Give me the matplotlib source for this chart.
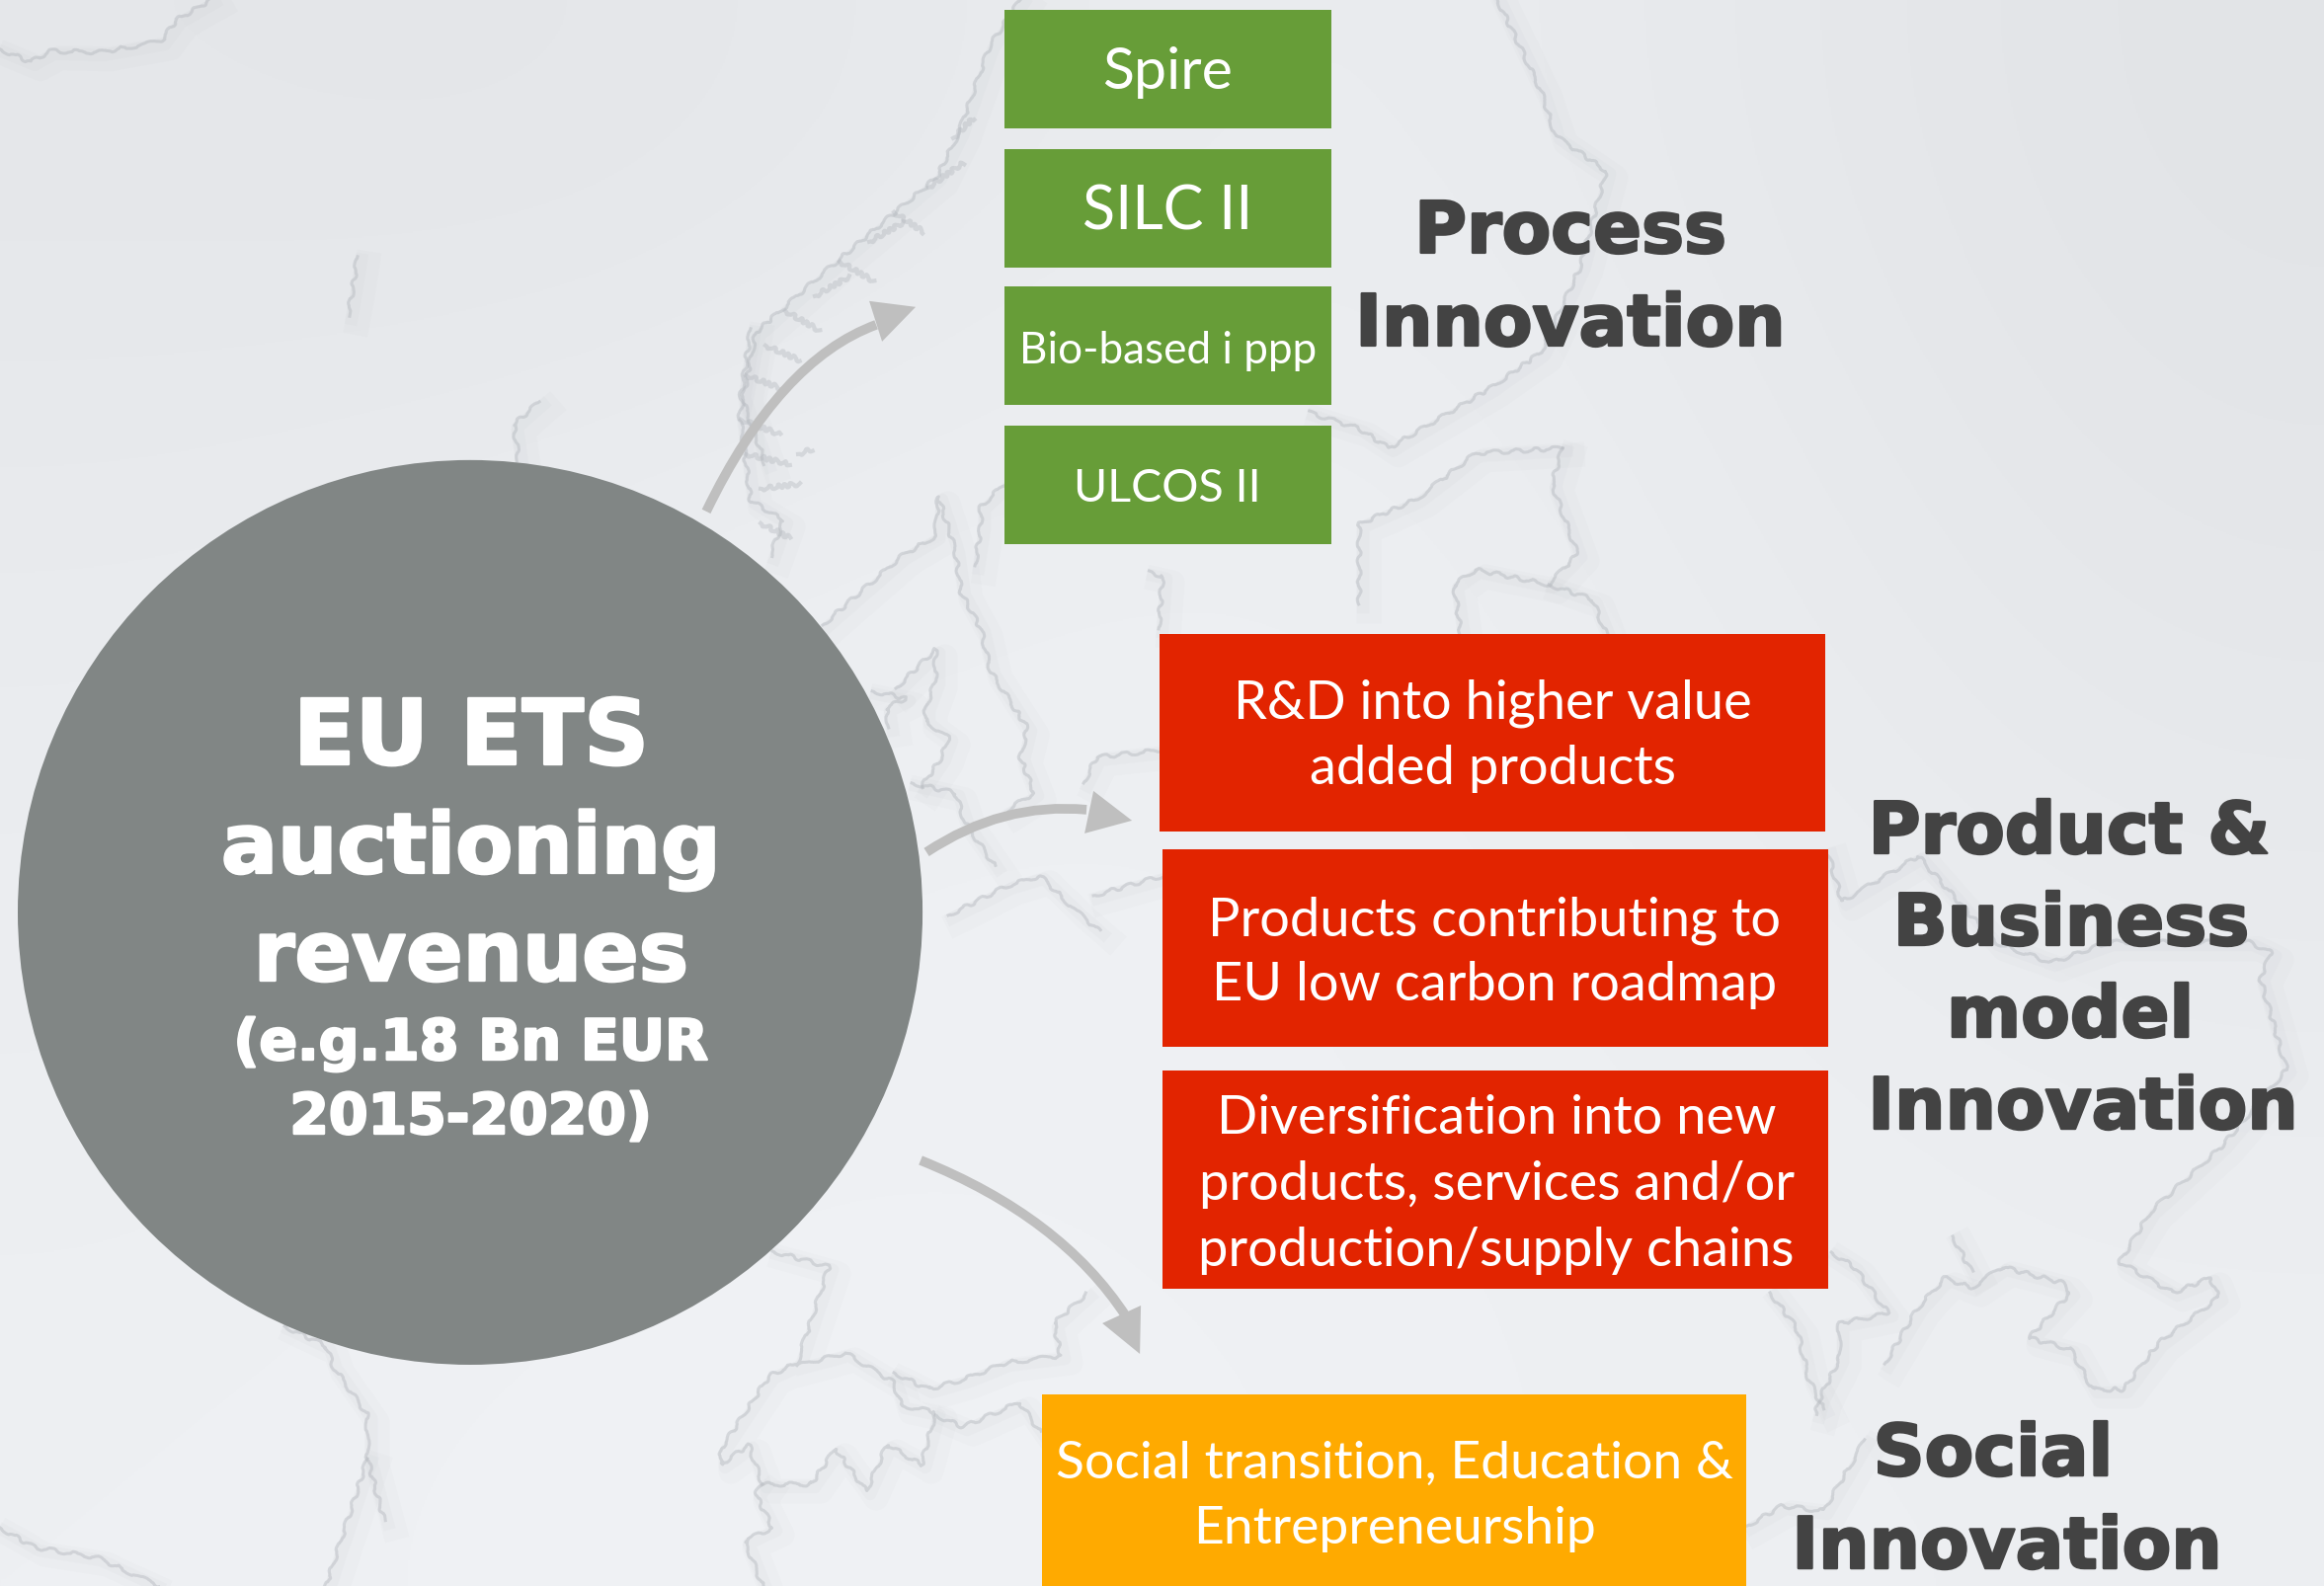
import numpy as np
import matplotlib
matplotlib.use("Agg")
import matplotlib.pyplot as plt
import matplotlib.patheffects as pe
from matplotlib.patches import Rectangle, Circle, PathPatch, Polygon
from matplotlib.path import Path

W, H = 2353, 1606

plt.rcParams['font.family'] = ['Lato', 'DejaVu Sans']
HEAVY = ['DejaVu Sans']

# colours
GREEN = '#679D38'
RED = '#E22400'
ORANGE = '#FFAA00'
CIRCLE = '#818685'
DARK = '#434343'
ARROW = '#BFBFBF'
MAP = '#B4B8BE'

# background grey levels on a coarse grid (top to bottom)
bg_levels = [[230, 229, 233, 236, 232, 227],
             [233, 235, 237, 238, 234, 229],
             [236, 238, 239, 239, 236, 232],
             [237, 239, 240, 239, 238, 236],
             [239, 241, 241, 240, 238, 238]]

# boxes: left, top, right, bottom
green_boxes = [(1017, 10, 1348, 130), (1017, 151, 1348, 271),
               (1017, 290, 1348, 410), (1017, 431, 1348, 551)]
red_boxes = [(1174, 642, 1848, 842), (1177, 860, 1851, 1060), (1177, 1084, 1851, 1305)]
orange_boxes = [(1055, 1412, 1768, 1606)]

# text lines: text, x centre, baseline, size
green_text = [('Spire', 1182, 90, 42.5), ('SILC II', 1182, 232, 44),
              ('Bio-based i ppp', 1182, 368, 31.7), ('ULCOS II', 1182, 508, 33.5)]
red_text = [('R&D into higher value', 1511, 727, 39), ('added products', 1511, 794, 39),
            ('Products contributing to', 1513, 947, 39), ('EU low carbon roadmap', 1513, 1013, 39),
            ('Diversification into new', 1515, 1148, 39), ('products, services and/or', 1515, 1215, 39),
            ('production/supply chains', 1515, 1282, 39)]
orange_text = [('Social transition, Education &', 1412, 1497, 38.5), ('Entrepreneurship', 1412, 1563, 38.5)]
circle_text = [('EU ETS', 477, 774, 66), ('auctioning', 477, 884, 61), ('revenues', 477, 993, 61),
               ('(e.g.18 Bn EUR', 477, 1073, 41), ('2015-2020)', 477, 1148, 41)]
side_text = [('Process', 1590, 256), ('Innovation', 1590, 350),
             ('Product &', 2095, 864), ('Business', 2097, 957), ('model', 2096, 1050), ('Innovation', 2109, 1143),
             ('Social', 2018, 1494), ('Innovation', 2032, 1588)]

# arrows: start, control, end of the shaft, then the three head corners
arrow_paths = [((715, 518), (789, 365), (887, 329)),
               ((938, 863), (1015, 812), (1100, 820)),
               ((932, 1175), (1074, 1232), (1140, 1333))]
arrow_heads = [((927, 311), (880, 305), (893, 346)),
               ((1146, 831), (1107, 801), (1098, 844)),
               ((1154, 1371), (1155, 1322), (1116, 1340))]

# faint map
map_lines = [
    [(1033, 0), (1002, 46), (971, 134), (948, 180), (880, 237), (826, 283), (765, 337), (749, 421), (760, 507), (793, 527), (780, 563)],
    [(1516, 0), (1560, 92), (1575, 138), (1626, 173), (1600, 270), (1560, 357), (1509, 393), (1406, 454), (1376, 434), (1325, 418)],
    [(1582, 454), (1494, 459), (1435, 505), (1376, 531), (1376, 577), (1376, 612)],
    [(1582, 454), (1571, 490), (1597, 561), (1568, 592), (1494, 577), (1472, 592), (1479, 643)],
    [(1568, 592), (1612, 607), (1626, 642)],
    [(833, 633), (913, 563), (947, 543), (950, 503), (967, 557), (973, 600), (993, 637), (1003, 680), (1040, 737), (1033, 767), (1047, 803), (1020, 820)],
    [(987, 573), (993, 533), (993, 513), (1017, 490)],
    [(883, 700), (917, 707), (897, 717), (900, 737)],
    [(907, 697), (947, 658), (947, 690), (937, 717), (937, 730), (960, 747), (953, 767), (933, 797)],
    [(1097, 793), (1110, 767), (1173, 760)],
    [(923, 793), (967, 803), (977, 833), (1007, 877)],
    [(960, 927), (1020, 897), (1053, 887), (1090, 923), (1113, 943)],
    [(1107, 907), (1177, 887)],
    [(1173, 637), (1177, 583), (1163, 580)],
    [(1854, 1268), (1877, 1283), (1912, 1330), (1862, 1340), (1862, 1376), (1842, 1417), (1838, 1432)],
    [(1792, 1309), (1819, 1345), (1831, 1396), (1846, 1427)],
    [(1908, 1381), (1942, 1324), (1969, 1294), (1996, 1304), (2027, 1283), (2088, 1299), (2096, 1309), (2054, 1355),
     (2096, 1366), (2119, 1407), (2150, 1407), (2185, 1360), (2246, 1314), (2238, 1294), (2200, 1309), (2146, 1278),
     (2177, 1227), (2250, 1160), (2315, 1083), (2288, 990), (2300, 965), (2277, 954), (2135, 954), (2077, 975),
     (2019, 954), (1942, 867), (1865, 913), (1850, 862)],
    [(1977, 1252), (1996, 1288)],
    [(1769, 1545), (1804, 1525), (1846, 1530), (1888, 1458)],
    [(782, 1267), (839, 1283), (807, 1380), (779, 1393), (730, 1467), (730, 1483), (758, 1463), (772, 1503), (821, 1503),
     (846, 1467), (877, 1510), (898, 1463), (933, 1483), (947, 1430), (912, 1423), (905, 1400), (856, 1370), (807, 1383)],
    [(905, 1390), (940, 1407), (975, 1397), (1018, 1380), (1074, 1373), (1067, 1340), (1100, 1310)],
    [(947, 1433), (975, 1445), (1032, 1420), (1053, 1450)],
    [(772, 1503), (765, 1513), (782, 1547), (754, 1560), (772, 1606)],
    [(288, 1343), (330, 1363), (337, 1383), (372, 1433), (372, 1477), (389, 1540)],
    [(372, 1477), (330, 1606)],
    [(0, 1547), (35, 1567), (98, 1577), (161, 1606)],
    [(0, 50), (31, 63), (51, 52), (102, 53), (163, 42), (179, 20), (214, 0)],
    [(362, 260), (357, 293), (352, 320)],
    [(546, 407), (520, 430), (525, 467)],
    [(760, 333), (750, 400), (775, 470)],
]

# short feathery strokes along the Norwegian coast
fjord_strokes = [
    [(965, 140), (985, 120)], [(940, 190), (975, 165)], [(905, 215), (935, 235)], [(880, 245), (915, 225)],
    [(850, 265), (885, 285)], [(825, 300), (860, 280)], [(795, 315), (830, 335)], [(775, 350), (810, 365)],
    [(755, 380), (795, 395)], [(750, 425), (790, 440)], [(755, 460), (800, 470)], [(770, 495), (810, 490)],
    [(770, 530), (800, 545)], [(808, 460), (822, 455)],
]

fig = plt.figure(figsize=((W + 0.2) / 100, (H + 0.2) / 100), dpi=100)
ax = fig.add_axes([0, 0, 1, 1])
ax.set_xlim(0, W)
ax.set_ylim(H, 0)
ax.axis('off')

# background, slightly blue
lev = np.array(bg_levels, dtype=float)
bg = np.clip(np.dstack([lev - 1, lev + 1, lev + 4]) / 255, 0, 1)
ax.imshow(bg, extent=(0, W, H, 0), interpolation='bicubic', aspect='auto', zorder=0)

# soft shaded coast, then the thin wiggly line on top
for line in map_lines:
    xs, ys = zip(*line)
    xs = np.array(xs)
    ys = np.array(ys)
    ax.plot(xs + 10, ys + 7, color='#A9ADB2', lw=18, alpha=0.04, solid_joinstyle='round', zorder=1)
    ax.plot(xs + 4, ys + 3, color='#A9ADB2', lw=9, alpha=0.05, solid_joinstyle='round', zorder=1)
    ln, = ax.plot(xs, ys, color=MAP, lw=2.2, alpha=0.45, solid_joinstyle='round', zorder=1)
    ln.set_sketch_params(scale=2, length=30, randomness=4)
for line in fjord_strokes:
    xs, ys = zip(*line)
    ln, = ax.plot(xs, ys, color=MAP, lw=3, alpha=0.4, zorder=1)
    ln.set_sketch_params(scale=2, length=12, randomness=4)

# arrows
for shaft, head in zip(arrow_paths, arrow_heads):
    p = Path(shaft, [Path.MOVETO, Path.CURVE3, Path.CURVE3])
    ax.add_patch(PathPatch(p, fc='none', ec=ARROW, lw=7, capstyle='butt', zorder=2))
    ax.add_patch(Polygon(head, closed=True, fc=ARROW, ec='none', zorder=2))

# circle
ax.add_patch(Circle((476, 924), 458, fc=CIRCLE, ec='none', zorder=3))

# boxes
for boxes, col in [(green_boxes, GREEN), (red_boxes, RED), (orange_boxes, ORANGE)]:
    for l, t, r, b in boxes:
        ax.add_patch(Rectangle((l, t), r - l, b - t, fc=col, ec='none', zorder=3))

# box and circle labels, heavy ones get a thin stroke to reach the weight of the original
for txt, x, y, size in green_text + red_text + orange_text:
    ax.text(x, y, txt, color='white', fontsize=size, ha='center', va='baseline', zorder=4)
for txt, x, y, size in circle_text:
    ax.text(x, y, txt, color='white', fontsize=size, family=HEAVY, fontweight='bold', ha='center', va='baseline', zorder=4,
            path_effects=[pe.withStroke(linewidth=1.8, foreground='white')])
for txt, x, y in side_text:
    ax.text(x, y, txt, color=DARK, fontsize=52, family=HEAVY, fontweight='bold', ha='center', va='baseline', zorder=4,
            path_effects=[pe.withStroke(linewidth=1.8, foreground=DARK)])

fig.savefig('out.png', dpi=100)
